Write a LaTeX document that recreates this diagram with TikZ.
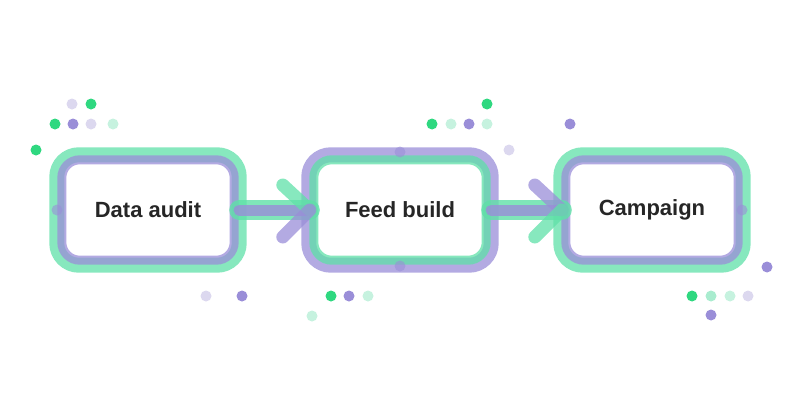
\documentclass[tikz,border=0pt]{standalone}
\usepackage{fontspec}
\setmainfont{Liberation Sans}
\usetikzlibrary{positioning, calc}
\definecolor{mint}{HTML}{5FE0A8}
\definecolor{lilac}{HTML}{9A8ED8}
\definecolor{brightgreen}{HTML}{2FD880}
\definecolor{palegreen}{HTML}{C6F2DF}
\definecolor{lightmint}{HTML}{A9ECCF}
\definecolor{palelilac}{HTML}{DCD8EF}
\tikzset{dt/.style={circle, fill=#1, inner sep=0pt, minimum size=11pt}}
\tikzset{ca/.style={line width=#1, line cap=round, line join=round}}
\begin{document}
\begin{tikzpicture}[x=1pt, y=-1pt]
\tikzset{
  box/.style={rectangle, rounded corners=20pt, minimum width=182pt,
    minimum height=110pt, font=\bfseries\fontsize{22}{26}\selectfont, text=black!85},
}
\useasboundingbox (0,0) rectangle (800,420);

\node [box] (audit) at (148, 210) {};
\node [box] (feed) at (400, 210) {};
\node [box] (camp) at (652, 210) {};

% outer and inner bands
\draw [mint, opacity=0.75, line width=15pt, rounded corners=22pt] (audit.south west) rectangle (audit.north east);
\draw [lilac, opacity=0.75, line width=9pt, rounded corners=18pt] ($(audit.south west)+(5,-5)$) rectangle ($(audit.north east)+(-5,5)$);
\draw [lilac, opacity=0.75, line width=15pt, rounded corners=22pt] (feed.south west) rectangle (feed.north east);
\draw [mint, opacity=0.75, line width=9pt, rounded corners=18pt] ($(feed.south west)+(5,-5)$) rectangle ($(feed.north east)+(-5,5)$);
\draw [mint, opacity=0.75, line width=15pt, rounded corners=22pt] (camp.south west) rectangle (camp.north east);
\draw [lilac, opacity=0.75, line width=9pt, rounded corners=18pt] ($(camp.south west)+(5,-5)$) rectangle ($(camp.north east)+(-5,5)$);

\node [box] at (audit) {Data audit};
\node [box] at (feed) {Feed build};
\node [box] at (camp) {Campaign};

% connectors
\coordinate (t1) at ($(feed.west)+(1,0)$);
\coordinate (t2) at ($(camp.west)+(1,0)$);
\draw [mint, opacity=0.8, ca=20pt] (audit.east) -- (t1);
\draw [lilac, opacity=0.8, ca=11pt] (audit.east) -- (t1);
\draw [mint, opacity=0.8, ca=20pt] (feed.east) -- (t2);
\draw [lilac, opacity=0.8, ca=11pt] (feed.east) -- (t2);
\draw [mint, opacity=0.75, ca=13pt] ($(t1)+(-27,-25)$) -- (t1);
\draw [lilac, opacity=0.75, ca=13pt] ($(t1)+(-27,27)$) -- (t1);
\draw [lilac, opacity=0.75, ca=13pt] ($(t2)+(-27,-25)$) -- (t2);
\draw [mint, opacity=0.75, ca=13pt] ($(t2)+(-27,27)$) -- (t2);

% dots
\node [dt=lilac, opacity=0.6] (p1) at (57, 210) {};
\node [dt=lilac, opacity=0.6] (p2) at (400, 152) {};
\node [dt=lilac, opacity=0.6] (p3) at (400, 266) {};
\node [dt=lilac, opacity=0.6] (p4) at (742, 210) {};

\node [dt=palelilac] (d1) at (72, 104) {};
\node [dt=brightgreen] (d2) at (91, 104) {};
\node [dt=brightgreen] (d3) at (55, 124) {};
\node [dt=lilac] (d4) at (73, 124) {};
\node [dt=palelilac] (d5) at (91, 124) {};
\node [dt=palegreen] (d6) at (113, 124) {};
\node [dt=brightgreen] (d7) at (36, 150) {};

\node [dt=palelilac] (e1) at (206, 296) {};
\node [dt=lilac] (e2) at (242, 296) {};
\node [dt=brightgreen] (e3) at (331, 296) {};
\node [dt=lilac] (e4) at (349, 296) {};
\node [dt=palegreen] (e5) at (368, 296) {};
\node [dt=palegreen] (e6) at (312, 316) {};

\node [dt=brightgreen] (f1) at (487, 104) {};
\node [dt=brightgreen] (f2) at (432, 124) {};
\node [dt=palegreen] (f3) at (451, 124) {};
\node [dt=lilac] (f4) at (469, 124) {};
\node [dt=palegreen] (f5) at (487, 124) {};
\node [dt=palelilac] (f6) at (509, 150) {};
\node [dt=lilac] (f7) at (570, 124) {};

\node [dt=brightgreen] (g1) at (692, 296) {};
\node [dt=lightmint] (g2) at (711, 296) {};
\node [dt=palegreen] (g3) at (730, 296) {};
\node [dt=palelilac] (g4) at (748, 296) {};
\node [dt=lilac] (g5) at (711, 315) {};
\node [dt=lilac] (g6) at (767, 267) {};
\end{tikzpicture}
\end{document}
